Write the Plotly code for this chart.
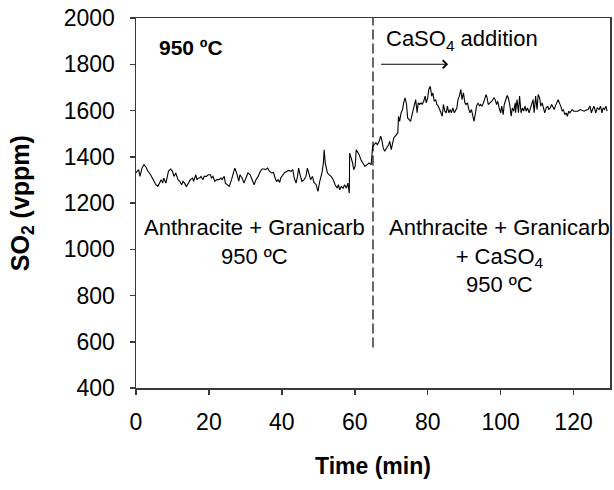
import plotly.graph_objects as go

time_min = [0.0, 0.73, 1.09, 1.64, 2.18, 2.73, 3.27, 4.0, 4.73, 5.45, 6.0, 6.55, 6.9, 7.3, 7.6, 8.2, 8.5, 8.9, 9.5, 10.0,
            10.4, 10.9, 11.5, 12.0, 12.5, 12.9, 13.3, 13.8, 14.4, 14.9, 15.5, 15.8, 16.4, 16.7, 17.1, 17.5, 17.8, 18.4, 18.7, 19.3,
            19.8, 20.4, 20.7, 21.1, 21.6, 22.2, 22.7, 23.3, 23.6, 24.2, 24.5, 25.1, 25.6, 26.2, 26.7, 27.1, 27.6, 28.2, 28.5, 29.1,
            29.6, 30.2, 30.7, 31.3, 31.8, 32.4, 32.9, 33.5,
            34.1, 34.6, 35.2, 35.5, 36.1, 36.6, 37.2, 37.7, 38.3, 38.6, 39.0, 39.4, 39.7, 40.3, 40.8, 41.4, 41.9, 42.5, 43.0, 43.4,
            43.9, 44.3, 44.6, 45.0, 45.5, 46.1, 46.6, 47.0, 47.4, 47.9, 48.4, 48.8, 49.4, 49.9, 50.4, 51.0, 51.4, 51.6, 51.9, 52.5,
            53.0, 53.5, 54.1, 54.6, 55.2, 55.5, 55.9, 56.3, 56.8, 57.2, 57.7, 58.1, 58.5, 58.6, 59.0, 59.4, 59.7, 60.1, 60.4, 61.2,
            61.7, 62.3, 62.8, 63.4, 63.9, 64.5, 64.9,
            65.3, 65.8, 66.2, 66.7, 67.1, 67.4, 67.8, 68.2, 68.7, 69.3, 69.6, 70.0, 70.3, 70.7, 71.1, 71.4, 71.8, 72.0, 72.3, 72.7,
            73.1, 73.4, 73.8, 74.2, 74.5, 74.9, 75.3, 75.6, 76.0, 76.3, 76.7, 77.1, 77.4, 77.8, 78.2, 78.5, 78.9, 79.3, 79.6, 80.0,
            80.3, 80.7, 81.1, 81.4, 81.8, 82.2, 82.5, 82.9, 83.3, 83.6, 84.0, 84.3, 84.7, 85.1, 85.4, 85.8, 86.2, 86.5, 86.9, 87.3,
            87.6, 88.0, 88.3, 88.7, 89.1, 89.4, 89.8, 90.2, 90.5, 90.9, 91.3, 91.6, 92.0, 92.3, 92.7, 93.1, 93.4, 93.8, 94.2, 94.5,
            94.9, 95.3, 95.6, 96.0, 96.3,
            96.6, 97.1, 97.6, 98.2, 98.5, 98.9, 99.2, 99.6, 100.0, 100.3, 100.7, 101.0, 101.4, 101.8, 102.1, 102.5, 102.9, 103.2,
            103.6, 104.0, 104.1, 104.5, 104.9, 105.2, 105.6, 106.0, 106.3, 106.7, 107.0, 107.4, 107.8, 108.1, 108.5, 108.9, 109.2,
            109.6, 110.0, 110.3, 110.7, 111.0, 111.4, 111.8, 112.1, 112.5, 112.9, 113.2, 113.6, 114.0, 114.3, 114.7, 115.0, 115.4,
            115.8, 116.1, 116.5, 116.9, 117.2, 117.6, 118.0, 118.3, 118.7, 119.0, 119.6, 120.1, 120.7, 121.2, 121.8, 122.3, 122.9,
            123.4, 124.0, 124.5, 124.9, 125.2, 125.6, 126.1, 126.5, 127.0, 127.4, 127.8, 128.1, 128.5, 128.9, 129.2]

so2_vppm = [1330, 1344, 1315, 1351, 1366, 1356, 1337, 1322, 1301, 1279, 1272, 1286, 1301, 1286, 1308, 1286, 1315, 1337, 1347, 1337,
            1315, 1330, 1301, 1294, 1279, 1294, 1286, 1272, 1286, 1301, 1308, 1294, 1322, 1301, 1308, 1308, 1315, 1301, 1315, 1315,
            1322, 1322, 1308, 1315, 1294, 1301, 1301, 1308, 1301, 1315, 1286, 1279, 1272, 1301, 1337, 1351, 1330, 1294, 1322, 1308,
            1286, 1315, 1330, 1322, 1301, 1279, 1301, 1315,
            1337, 1347, 1347, 1344, 1351, 1337, 1330, 1332, 1301, 1294, 1301, 1289, 1308, 1322, 1332, 1337, 1341, 1337, 1344, 1308,
            1286, 1315, 1351, 1322, 1294, 1301, 1315, 1351, 1330, 1301, 1315, 1289, 1279, 1250, 1294, 1330, 1373, 1430, 1373, 1330,
            1322, 1315, 1301, 1279, 1264, 1279, 1257, 1272, 1264, 1279, 1264, 1286, 1243, 1416, 1395, 1373, 1344, 1358, 1430, 1409,
            1387, 1373, 1358, 1366, 1373, 1366, 1445,
            1452, 1460, 1452, 1467, 1489, 1474, 1438, 1424, 1438, 1452, 1467, 1431, 1452, 1481, 1489, 1496, 1503, 1575, 1553, 1590,
            1604, 1633, 1655, 1626, 1568, 1561, 1553, 1575, 1597, 1619, 1647, 1590, 1633, 1626, 1633, 1626, 1640, 1662, 1633, 1655,
            1691, 1705, 1662, 1676, 1640, 1647, 1626, 1619, 1604, 1590, 1575, 1626, 1597, 1590, 1619, 1590, 1604, 1590, 1611, 1590,
            1597, 1611, 1647, 1662, 1691, 1647, 1676, 1633, 1626, 1633, 1604, 1590, 1604, 1582, 1553, 1590, 1619, 1633, 1619, 1626,
            1619, 1633, 1647, 1669, 1655,
            1626, 1633, 1640, 1655, 1647, 1626, 1640, 1611, 1590, 1619, 1582, 1626, 1647, 1665, 1655, 1626, 1575, 1611,
            1597, 1633, 1590, 1647, 1590, 1662, 1590, 1611, 1597, 1619, 1597, 1611, 1590, 1604, 1619, 1647, 1590,
            1662, 1604, 1669, 1655, 1619, 1633, 1604, 1590, 1611, 1619, 1604, 1611, 1626, 1619, 1604, 1619, 1633,
            1647, 1633, 1619, 1597, 1604, 1582, 1590, 1575, 1597, 1590, 1604, 1597, 1597, 1597, 1604, 1601, 1597,
            1601, 1604, 1619, 1590, 1604, 1619, 1590, 1611, 1604, 1619, 1590, 1611, 1604, 1619, 1597]

x_ticks = [0, 20, 40, 60, 80, 100, 120]
y_ticks = [400, 600, 800, 1000, 1200, 1400, 1600, 1800, 2000]
x_range = [0, 130]
y_range = [400, 2000]

addition_time = [65, 65]
addition_span = [575, 2000]

FONT = "Liberation Sans, Arial, sans-serif"
AX = "#3a3a3a"

fig = go.Figure()
fig.add_trace(go.Scatter(x=time_min, y=so2_vppm, mode="lines",
                         line=dict(color="black", width=1.1), showlegend=False))
fig.add_trace(go.Scatter(x=addition_time, y=addition_span, mode="lines",
                         line=dict(color="black", width=1.2, dash="10px,4px"), showlegend=False))

axis_common = dict(showgrid=False, zeroline=False, showline=True, mirror=True,
                   linecolor=AX, linewidth=1.5, ticks="outside", ticklen=5,
                   tickcolor=AX, tickwidth=1.5,
                   tickfont=dict(family=FONT, size=23, color="black"))
fig.update_xaxes(range=x_range, tickvals=x_ticks, ticklabelstandoff=8, **axis_common)
fig.update_yaxes(range=y_range, tickvals=y_ticks, ticklabelstandoff=10, **axis_common)

ann_font = dict(family=FONT, size=22, color="black")
annotations = [
    dict(x=5.7, y=1872, text="<b>950 ºC</b>", xanchor="left", yanchor="middle",
         showarrow=False, font=dict(family=FONT, size=21, color="black")),
    dict(x=32.5, y=1032, text="Anthracite + Granicarb<br>950 ºC", xanchor="center",
         yanchor="middle", showarrow=False, font=ann_font),
    dict(x=99.8, y=972, text="Anthracite + Granicarb<br>+ CaSO<sub>4</sub><br>950 ºC", xanchor="center",
         yanchor="middle", showarrow=False, font=ann_font),
    dict(x=67.9, y=1907, text="CaSO<sub>4</sub> addition", xanchor="left", yanchor="middle",
         showarrow=False, font=ann_font),
    dict(x=85.6, y=1800, ax=66.8, ay=1800, axref="x", ayref="y", text="", showarrow=True,
         arrowhead=4, arrowsize=1.6, arrowwidth=1, arrowcolor="black"),
    dict(x=-0.24, y=0.5, xref="paper", yref="paper", text="<b>SO<sub>2</sub> (vppm)</b>",
         textangle=-90, xanchor="center", yanchor="middle", showarrow=False,
         font=dict(family=FONT, size=25, color="black")),
    dict(x=0.5, y=-0.211, xref="paper", yref="paper", text="<b>Time (min)</b>",
         xanchor="center", yanchor="middle", showarrow=False,
         font=dict(family=FONT, size=23, color="black")),
]

fig.update_layout(width=614, height=490, margin=dict(l=136, r=2, t=18, b=102),
                  plot_bgcolor="white", paper_bgcolor="white", annotations=annotations,
                  font=dict(family=FONT))

post = ("document.body.style.margin='0';document.body.style.padding='0';"
        "document.body.style.overflow='hidden';"
        "var gd=document.getElementById('{plot_id}');"
        "Plotly.relayout(gd,{width:614,height:490});")

fig.write_html("out.html", post_script=post,
               config={"responsive": False, "displayModeBar": False, "staticPlot": True})
